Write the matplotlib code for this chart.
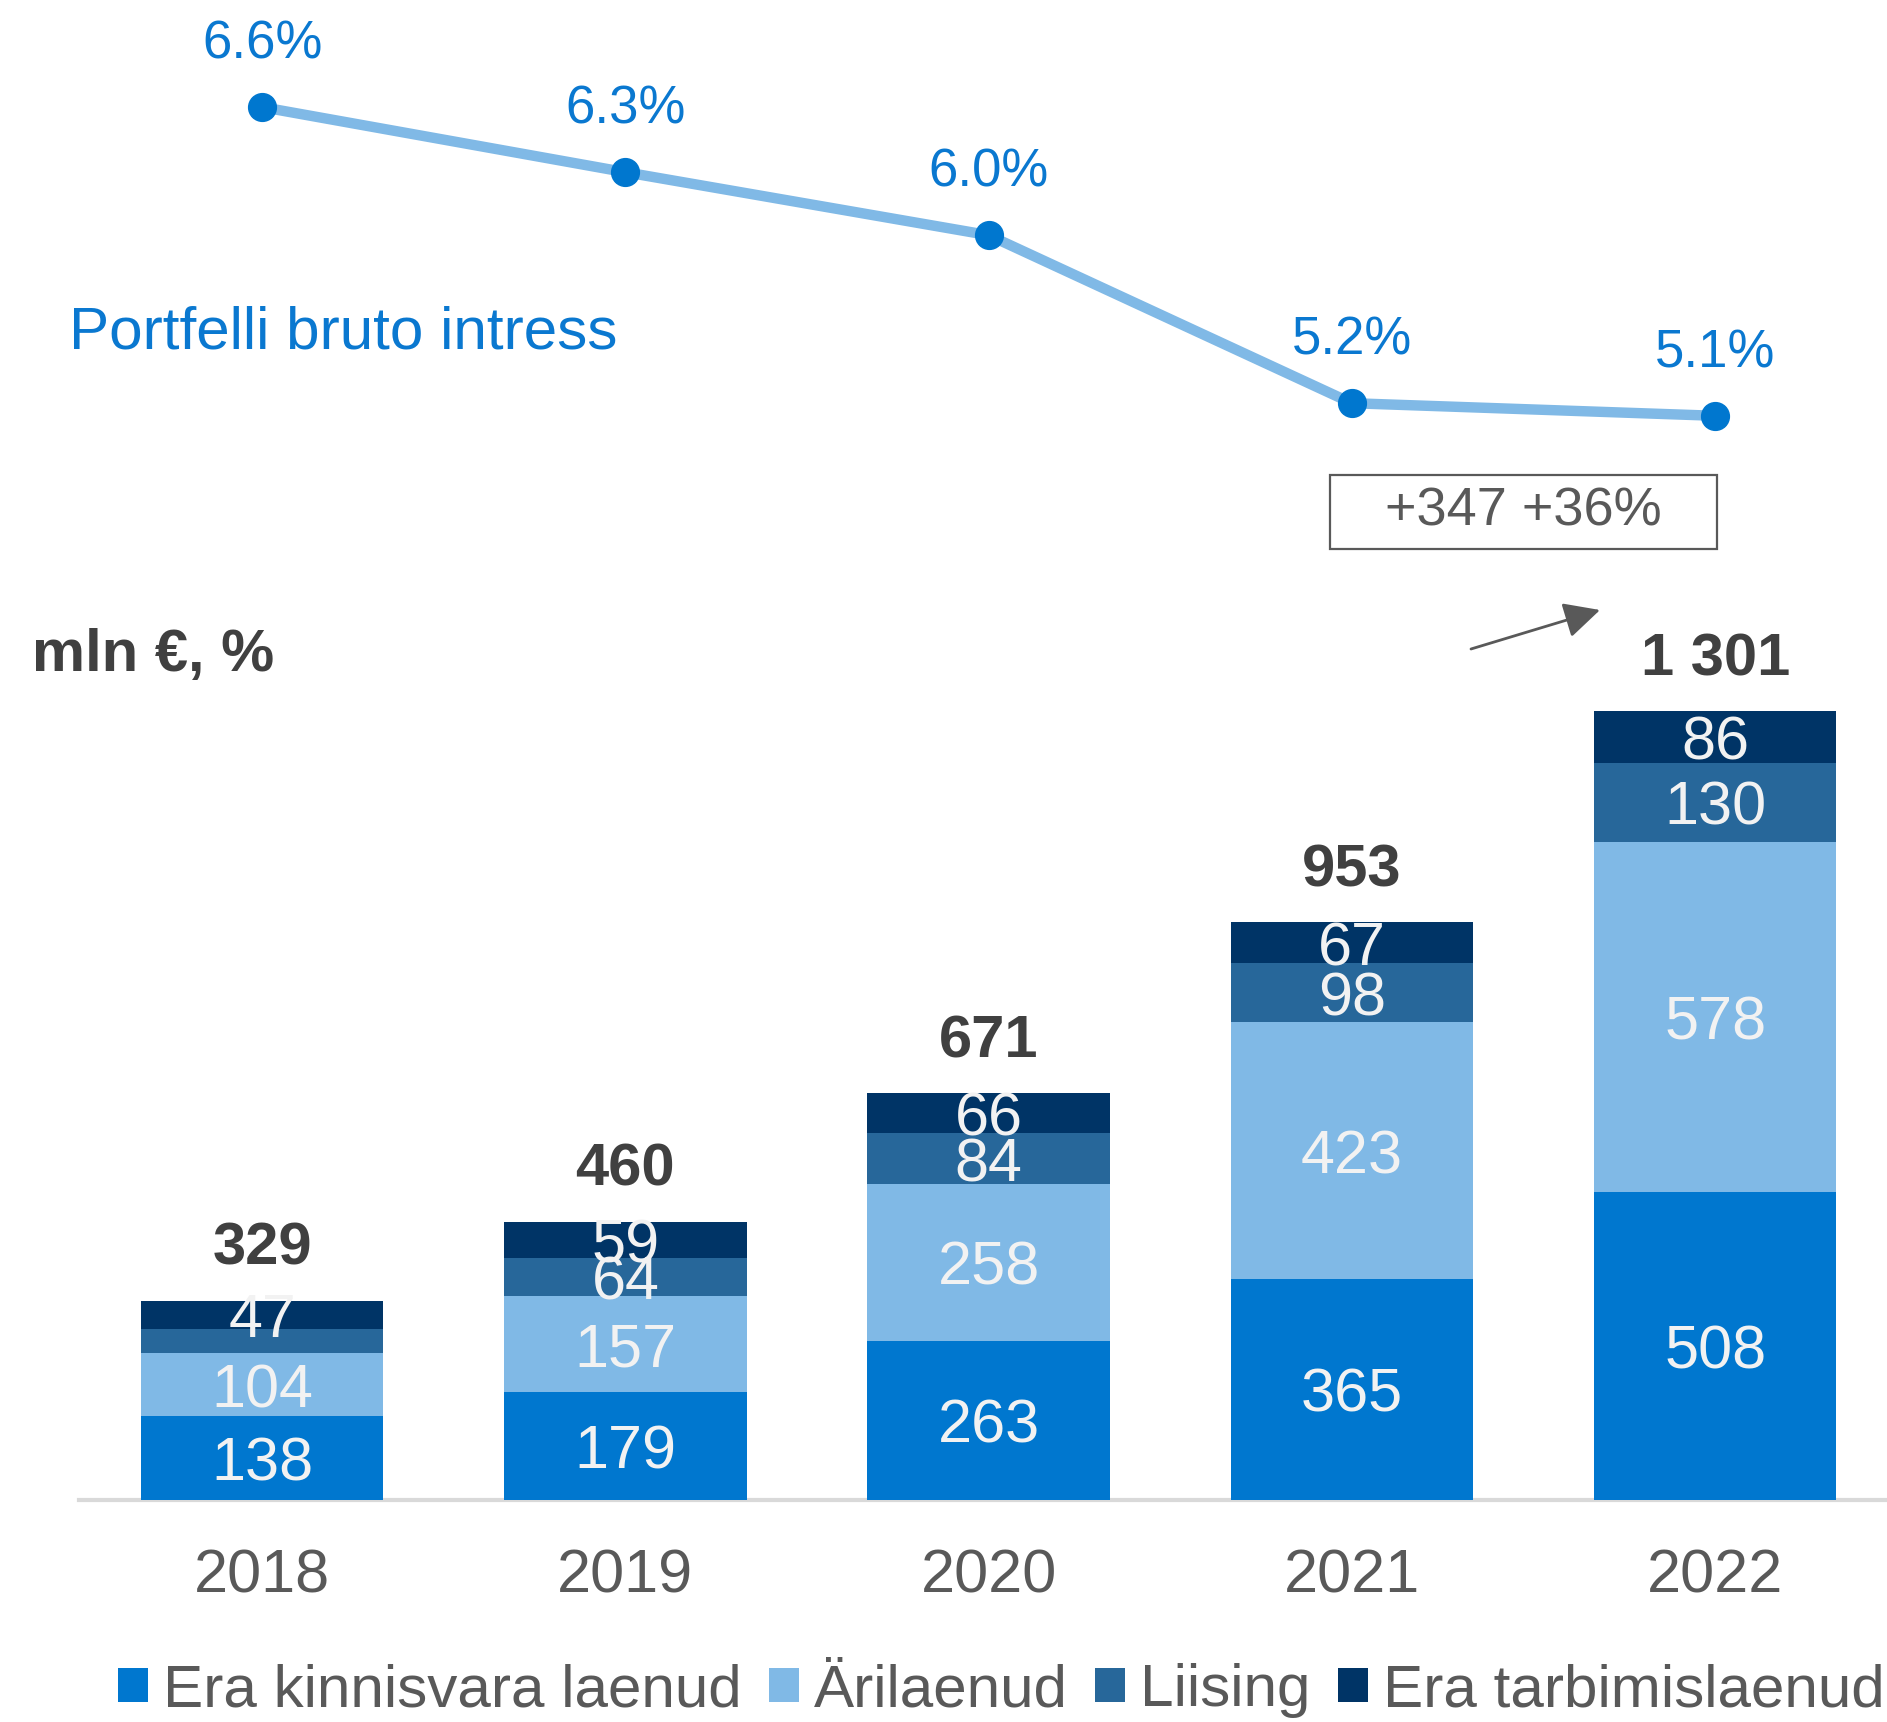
import matplotlib
matplotlib.use("Agg")
import matplotlib.pyplot as plt
from matplotlib.patches import Rectangle, Patch
import numpy as np

plt.rcParams['font.family'] = ['Liberation Sans', 'DejaVu Sans']

# data
years = ["2018", "2019", "2020", "2021", "2022"]
era_kinnisvara = [138, 179, 263, 365, 508]
arilaenud = [104, 157, 258, 423, 578]
liising = [40, 64, 84, 98, 130]
era_tarbimis = [47, 59, 66, 67, 86]
totals = ["329", "460", "671", "953", "1 301"]
rate = [6.62, 6.31, 6.01, 5.21, 5.15]
rate_labels = ["6.6%", "6.3%", "6.0%", "5.2%", "5.1%"]
series_names = ["Era kinnisvara laenud", "Ärilaenud", "Liising", "Era tarbimislaenud"]
liising_labels = ["", "64", "84", "98", "130"]

colors = ["#0077CF", "#80B9E6", "#27679A", "#003466"]
W, H = 1887, 1722

def px(x, y):
    # figure pixels from top-left -> figure fraction
    return x / W, 1 - y / H

fig = plt.figure(figsize=(W / 100, H / 100), dpi=100)
ax = fig.add_axes([79 / W, (H - 1500) / H, 1 - 79 / W, 1500 / H])

x = np.arange(len(years))
series = [era_kinnisvara, arilaenud, liising, era_tarbimis]
seg_labels = [[str(v) for v in era_kinnisvara], [str(v) for v in arilaenud],
              liising_labels, [str(v) for v in era_tarbimis]]
bottom = np.zeros(len(years))
for vals, col, labs in zip(series, colors, seg_labels):
    vals = np.array(vals)
    ax.bar(x, vals, bottom=bottom, width=0.667, color=col, zorder=2)
    for i in range(len(years)):
        if labs[i]:
            ax.annotate(labs[i], (x[i], bottom[i] + vals[i] / 2), xytext=(0, -5),
                        textcoords="offset points", ha="center", va="center",
                        fontsize=44, color="#F2F2F2", zorder=3)
    bottom = bottom + vals

for i in range(len(years)):
    ax.annotate(totals[i], (x[i], bottom[i]), xytext=(0, 37), textcoords="offset points",
                ha="center", va="center", fontsize=43, fontweight="bold", color="#404040")

ax.set_xlim(-0.504, 4.473)
ax.set_ylim(0, 1500 / 0.606)
ax.set_xticks(x)
ax.set_xticklabels(years, fontsize=44, color="#595959")
ax.tick_params(axis="x", length=0, pad=35)
ax.set_yticks([])
for s in ["top", "left", "right"]:
    ax.spines[s].set_visible(False)
ax.spines["bottom"].set_color("#D9D9D9")
ax.spines["bottom"].set_linewidth(3)
ax.spines["bottom"].set_zorder(1)

# interest rate line
ax2 = ax.twinx()
ax2.set_ylim(-0.013, 7.130)
ax2.plot(x, rate, color="#80B9E6", lw=7.5, zorder=2, solid_capstyle="round")
ax2.plot(x, rate, "o", color="#0077CF", ms=20, zorder=3)
for i, v in enumerate(rate):
    ax2.annotate(rate_labels[i], (x[i], v), xytext=(0, 45), textcoords="offset points",
                 ha="center", va="center", fontsize=38, color="#0A78D0")
ax2.set_yticks([])
for s in ax2.spines.values():
    s.set_visible(False)

fig.text(*px(69, 333), "Portfelli bruto intress", ha="left", va="center",
         fontsize=43.4, color="#0A78D0")
fig.text(*px(32, 656), "mln €, %", ha="left", va="center",
         fontsize=43, fontweight="bold", color="#404040")

# growth box and arrow
bx0, by0, bx1, by1 = 1330, 475, 1717, 549
fig.patches.append(Rectangle(px(bx0, by1), (bx1 - bx0) / W, (by1 - by0) / H,
                             transform=fig.transFigure, fill=False,
                             edgecolor="#595959", lw=1.6))
fig.text(*px((bx0 + bx1) / 2, (by0 + by1) / 2), "+347 +36%", ha="center", va="center",
         fontsize=39, color="#595959")
ax.annotate("", xy=px(1600, 610), xytext=px(1471, 649),
            xycoords="figure fraction", textcoords="figure fraction",
            arrowprops=dict(arrowstyle="-|>", color="#595959", lw=2,
                            mutation_scale=55, shrinkA=0, shrinkB=0))

handles = [Patch(facecolor=c) for c in colors]
fig.legend(handles, series_names, loc="center left", bbox_to_anchor=px(118, 1691),
           ncol=4, frameon=False, fontsize=43.4, labelcolor="#595959",
           handlelength=0.5, handleheight=0.5, handletextpad=0.25,
           columnspacing=0.45, borderpad=0, borderaxespad=0)

fig.savefig("out.png", dpi=100)
